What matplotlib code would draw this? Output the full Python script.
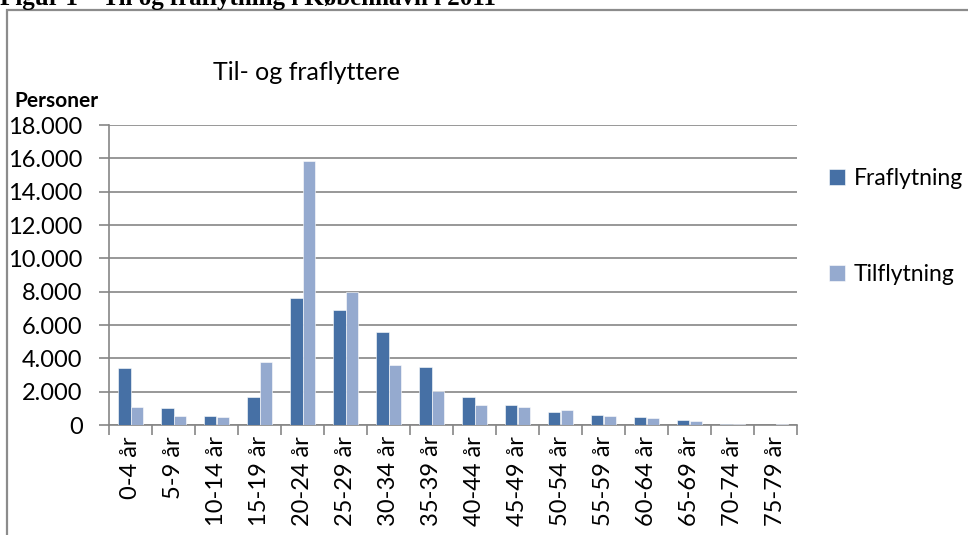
import numpy as np
import matplotlib
matplotlib.use("Agg")
import matplotlib.pyplot as plt
from matplotlib.patches import Rectangle

# data
groups = ["0-4 år", "5-9 år", "10-14 år", "15-19 år", "20-24 år", "25-29 år",
          "30-34 år", "35-39 år", "40-44 år", "45-49 år", "50-54 år", "55-59 år",
          "60-64 år", "65-69 år", "70-74 år", "75-79 år"]
fraflytning = [3400, 1050, 540, 1660, 7600, 6900, 5560, 3480, 1680, 1220, 760, 580, 480, 320, 80, 20]
tilflytning = [1100, 560, 460, 3760, 15850, 8000, 3620, 2040, 1180, 1100, 900, 540, 420, 240, 70, 40]
yticks = [0, 2000, 4000, 6000, 8000, 10000, 12000, 14000, 16000, 18000]

FRA_C, TIL_C = "#4670A5", "#95AACF"
AX_C = "#868686"
plt.rcParams["font.family"] = ["Lato", "DejaVu Sans"]

fig = plt.figure(figsize=(9.68, 5.35), dpi=100)

# outer chart frame + page caption (cut at top, as in the reference)
fig.patches.append(Rectangle((7 / 968, -0.1), 1.0, 1 - 10 / 535 + 0.1, transform=fig.transFigure,
                             fill=False, ec="#8c8c8c", lw=1.6))
fig.text(0.0, 1 - 5 / 535, "Figur 1 – Til og fraflytning i København i 2011", family="Liberation Serif",
         weight="bold", fontsize=18, va="baseline", ha="left")

ax = fig.add_axes([109 / 968, 1 - 425 / 535, 688 / 968, 300 / 535])
x = np.arange(len(groups))
w = 0.28
ax.bar(x - w / 2, fraflytning, w, color=FRA_C, ec="white", lw=0.4, label="Fraflytning", zorder=3)
ax.bar(x + w / 2, tilflytning, w, color=TIL_C, ec="white", lw=0.4, label="Tilflytning", zorder=3)

ax.set_xlim(-0.5, len(groups) - 0.5)
ax.set_ylim(0, 18000)
ax.set_yticks(yticks)
ax.set_yticklabels([f"{v:,}".replace(",", ".") for v in yticks], fontsize=17)
ax.grid(axis="y", color=AX_C, lw=1.2, zorder=0)
ax.set_xticks(x)
ax.set_xticklabels(groups, rotation=90, fontsize=17)
ax.set_xticks(np.arange(-0.5, len(groups)), minor=True)
ax.tick_params(axis="x", which="major", length=0, pad=8)
ax.tick_params(axis="x", which="minor", length=7, width=1.2, color=AX_C, direction="out")
ax.tick_params(axis="y", length=7, width=1.2, color=AX_C, direction="out", pad=12)
for s in ["top", "right"]:
    ax.spines[s].set_visible(False)
for s in ["left", "bottom"]:
    ax.spines[s].set_color(AX_C)
    ax.spines[s].set_linewidth(1.2)

fig.text(213 / 968, 1 - 73 / 535, "Til- og fraflyttere", fontsize=18, va="center")
fig.text(14 / 968, 1 - 101 / 535, "Personer", fontsize=15, weight="bold", va="center")

fig.legend(loc="upper left", bbox_to_anchor=(808 / 968, 1 - 147 / 535), frameon=False,
           fontsize=16.5, handlelength=0.7, handleheight=0.7, handletextpad=0.4, labelspacing=3.3)

fig.savefig("out.png", dpi=100)
